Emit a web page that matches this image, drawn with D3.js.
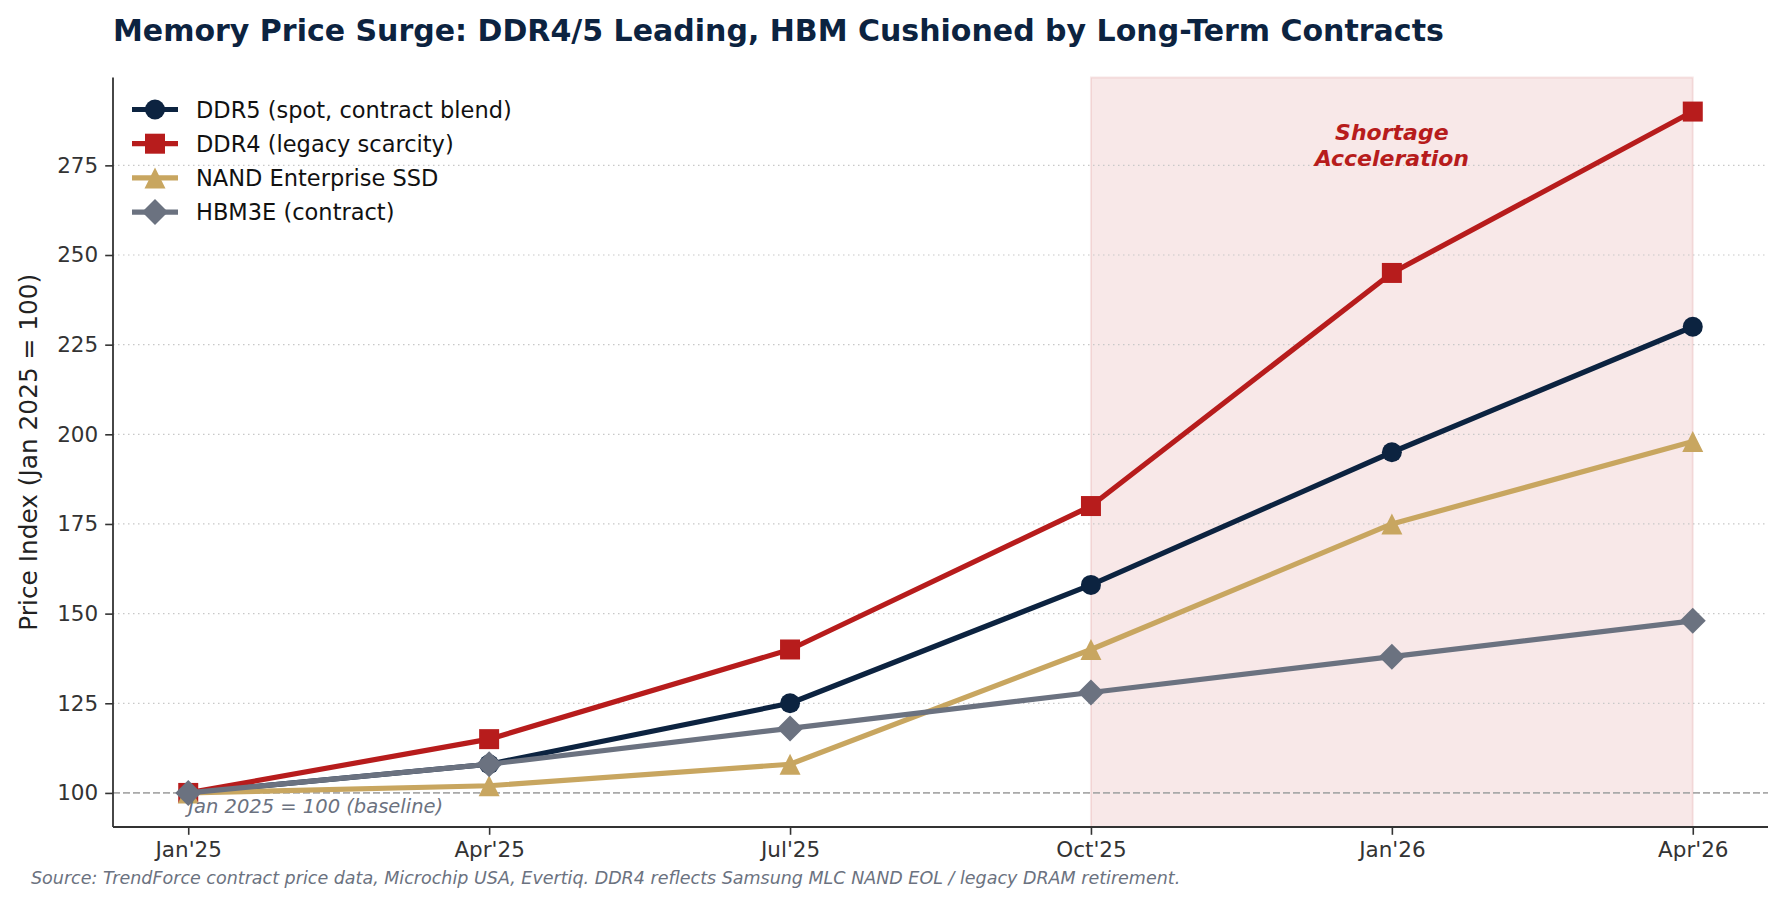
<!DOCTYPE html>
<html>
<head>
<meta charset="utf-8">
<script src="https://cdn.jsdelivr.net/npm/d3@7"></script>
<style>
  html, body { margin: 0; padding: 0; background: #fff; }
  svg { display: block; font-family: "DejaVu Sans", sans-serif; }
</style>
</head>
<body>
<div id="chart"></div>
<script>
// chart data
var periods = ["Jan'25", "Apr'25", "Jul'25", "Oct'25", "Jan'26", "Apr'26"];
var ddr5 = [100, 108, 125, 158, 195, 230];
var ddr4 = [100, 115, 140, 180, 245, 290];
var nand = [100, 102, 108, 140, 175, 198];
var hbm3e = [100, 108, 118, 128, 138, 148];
var yTicks = [100, 125, 150, 175, 200, 225, 250, 275];
var seriesNames = ["DDR5 (spot, contract blend)", "DDR4 (legacy scarcity)", "NAND Enterprise SSD", "HBM3E (contract)"];
var shortageSpan = ["Oct'25", "Apr'26"];
var baselineValue = 100;

var width = 1787, height = 906;
var margin = {left: 113, right: 19, top: 77.5, bottom: 79};

// custom marker shapes (matplotlib-like)
var sq = {draw: function (c, s) { var h = Math.sqrt(s) / 2; c.rect(-h, -h, 2 * h, 2 * h); }};
var tri = {draw: function (c, s) { var h = Math.sqrt(s) / 2; c.moveTo(0, -h); c.lineTo(h, h); c.lineTo(-h, h); c.closePath(); }};
var dia = {draw: function (c, s) { var h = Math.sqrt(s) / 2; c.moveTo(0, -h); c.lineTo(h, 0); c.lineTo(0, h); c.lineTo(-h, 0); c.closePath(); }};

var series = [
  {name: seriesNames[0], values: ddr5, color: "#0c2340", symbol: d3.symbolCircle, size: Math.PI * 10 * 10},
  {name: seriesNames[1], values: ddr4, color: "#b71c1c", symbol: sq, size: 20 * 20},
  {name: seriesNames[2], values: nand, color: "#c8a660", symbol: tri, size: 21 * 21},
  {name: seriesNames[3], values: hbm3e, color: "#6b7280", symbol: dia, size: 26 * 26}
];

var svg = d3.select("#chart").append("svg")
  .attr("width", width).attr("height", height);

var x = d3.scaleLinear().domain([-0.25, periods.length - 0.75])
  .range([margin.left, width - margin.right]);
var y = d3.scaleLinear().domain([90.5, 299.5])
  .range([height - margin.bottom, margin.top]);

// shaded shortage window
var s0 = periods.indexOf(shortageSpan[0]), s1 = periods.indexOf(shortageSpan[1]);
svg.append("rect")
  .attr("x", x(s0)).attr("y", margin.top)
  .attr("width", x(s1) - x(s0)).attr("height", y.range()[0] - margin.top)
  .attr("fill", "#b71c1c").attr("fill-opacity", 0.1)
  .attr("stroke", "#b71c1c").attr("stroke-opacity", 0.1).attr("stroke-width", 2);

// grid
svg.append("g").selectAll("line").data(yTicks).enter().append("line")
  .attr("x1", margin.left).attr("x2", width - margin.right)
  .attr("y1", function (d) { return y(d); }).attr("y2", function (d) { return y(d); })
  .attr("stroke", "#c8c8c8").attr("stroke-width", 1.2).attr("stroke-dasharray", "1.5,3.5");

// baseline
svg.append("line")
  .attr("x1", margin.left).attr("x2", width - margin.right)
  .attr("y1", y(baselineValue)).attr("y2", y(baselineValue))
  .attr("stroke", "#aaaaaa").attr("stroke-width", 1.8).attr("stroke-dasharray", "7,3");

// axes
var xAxis = d3.axisBottom(x).tickValues(d3.range(periods.length))
  .tickFormat(function (i) { return periods[i]; }).tickSize(7.8).tickPadding(7);
var gx = svg.append("g").attr("transform", "translate(0," + y.range()[0] + ")").call(xAxis);
var yAxis = d3.axisLeft(y).tickValues(yTicks).tickSize(7.8).tickPadding(7);
var gy = svg.append("g").attr("transform", "translate(" + margin.left + ",0)").call(yAxis);

[gx, gy].forEach(function (g) {
  g.select(".domain").attr("stroke", "#333").attr("stroke-width", 1.8);
  g.selectAll(".tick line").attr("stroke", "#333").attr("stroke-width", 1.6);
  g.selectAll(".tick text").attr("fill", "#333").style("font-size", "21.5px")
    .style("font-family", "DejaVu Sans");
});
gx.select(".domain").attr("d", "M" + margin.left + ",0H" + (width - margin.right));
gy.select(".domain").attr("d", "M0," + y.range()[0] + "V" + margin.top);

// lines + markers
var line = d3.line()
  .x(function (d, i) { return x(i); })
  .y(function (d) { return y(d); });

series.forEach(function (s) {
  var g = svg.append("g");
  g.append("path").datum(s.values).attr("d", line)
    .attr("fill", "none").attr("stroke", s.color).attr("stroke-width", 5.2)
    .attr("stroke-linejoin", "round");
  g.selectAll("path.mk").data(s.values).enter().append("path").attr("class", "mk")
    .attr("transform", function (d, i) { return "translate(" + x(i) + "," + y(d) + ")"; })
    .attr("d", d3.symbol().type(s.symbol).size(s.size))
    .attr("fill", s.color);
});

// legend
var lg = svg.append("g");
series.forEach(function (s, i) {
  var cy = 109.5 + i * 34.2;
  lg.append("line").attr("x1", 132).attr("x2", 178).attr("y1", cy).attr("y2", cy)
    .attr("stroke", s.color).attr("stroke-width", 5.2);
  lg.append("path").attr("transform", "translate(155," + cy + ")")
    .attr("d", d3.symbol().type(s.symbol).size(s.size)).attr("fill", s.color);
  lg.append("text").attr("x", 196).attr("y", cy + 8)
    .style("font-size", "22.5px").attr("fill", "#111").text(s.name);
});

// annotations
svg.append("text").attr("x", x(0)).attr("y", y(baselineValue) + 20)
  .style("font-size", "19.5px").style("font-style", "italic").attr("fill", "#6b7280")
  .text("Jan 2025 = 100 (baseline)");

svg.append("text").attr("text-anchor", "middle").attr("x", x(4)).attr("y", 140)
  .style("font-size", "22px").style("font-style", "italic").style("font-weight", "bold")
  .attr("fill", "#b71c1c").text("Shortage");
svg.append("text").attr("text-anchor", "middle").attr("x", x(4)).attr("y", 166)
  .style("font-size", "22px").style("font-style", "italic").style("font-weight", "bold")
  .attr("fill", "#b71c1c").text("Acceleration");

// title, y label, source
svg.append("text").attr("x", margin.left).attr("y", 41)
  .style("font-size", "30px").style("font-weight", "bold").attr("fill", "#0c2340")
  .text("Memory Price Surge: DDR4/5 Leading, HBM Cushioned by Long-Term Contracts");

svg.append("text").attr("transform", "translate(37," + ((margin.top + y.range()[0]) / 2) + ") rotate(-90)")
  .attr("text-anchor", "middle").style("font-size", "24.8px").attr("fill", "#222")
  .text("Price Index (Jan 2025 = 100)");

svg.append("text").attr("x", 31).attr("y", 884)
  .style("font-size", "17.5px").style("font-style", "italic").attr("fill", "#6b7280")
  .text("Source: TrendForce contract price data, Microchip USA, Evertiq. DDR4 reflects Samsung MLC NAND EOL / legacy DRAM retirement.");
</script>
</body>
</html>
